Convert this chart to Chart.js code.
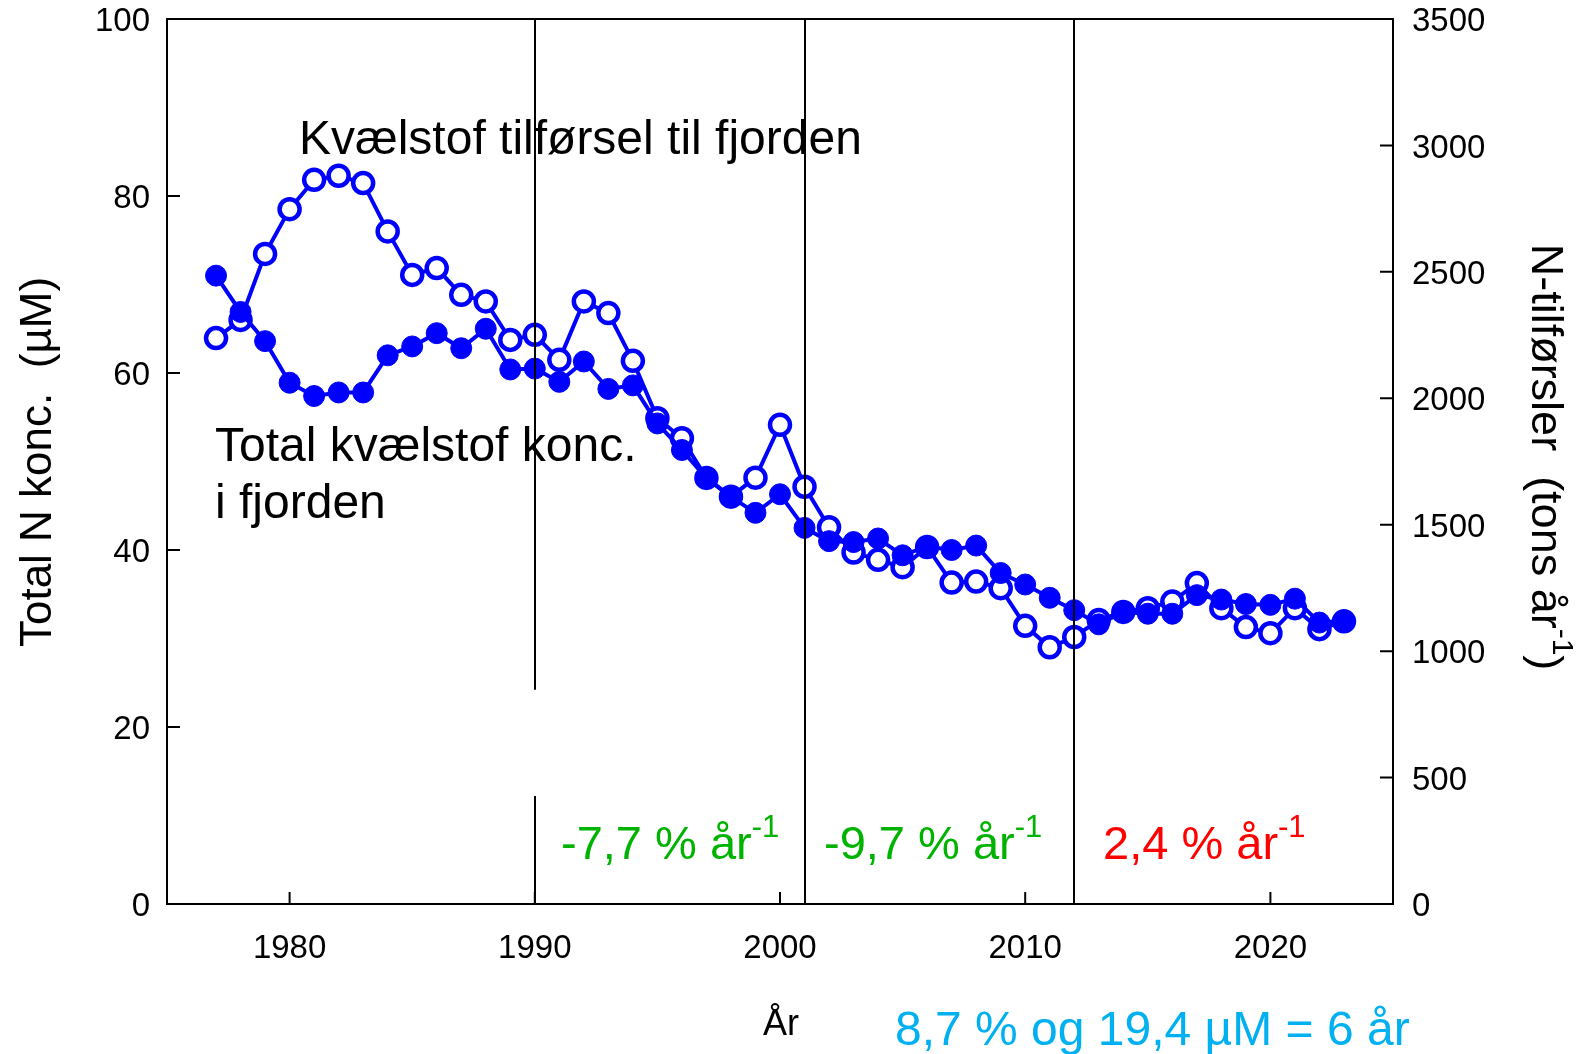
<!DOCTYPE html>
<html lang="da">
<head>
<meta charset="UTF-8">
<title>Kvælstof i fjorden</title>
<style>
  html, body { margin: 0; padding: 0; background: #fff; }
</style>
</head>
<body>
<canvas id="myChart" width="1591" height="1054"></canvas>

<script src="https://cdn.jsdelivr.net/npm/chart.js"></script>
<script>
// years with measurements
const years = [1977, 1978, 1979, 1980, 1981, 1982, 1983, 1984, 1985, 1986,
  1987, 1988, 1989, 1990, 1991, 1992, 1993, 1994, 1995, 1996,
  1997, 1998, 1999, 2000, 2001, 2002, 2003, 2004, 2005, 2006,
  2007, 2008, 2009, 2010, 2011, 2012, 2013, 2014, 2015, 2016,
  2017, 2018, 2019, 2020, 2021, 2022, 2023];

// total N concentration in the fjord (µM) - filled circles, left axis
const concN = [71.0, 66.9, 63.6, 58.9, 57.4, 57.8, 57.8, 62.0, 63.0, 64.5,
  62.8, 65.0, 60.4, 60.5, 59.0, 61.3, 58.2, 58.6, 54.3, 51.3,
  48.1, 46.0, 44.2, 46.3, 42.5, 41.0, 40.9, 41.3, 39.4, 40.4,
  40.0, 40.5, 37.4, 36.1, 34.6, 33.2, 31.6, 33.0, 32.8, 32.8,
  34.9, 34.4, 33.9, 33.8, 34.5, 31.8, 32.0];

// N load to the fjord (tons per year) - open circles, right axis
const loadN = [2238, 2310, 2571, 2748, 2864, 2880, 2851, 2660, 2488, 2515,
  2409, 2383, 2231, 2251, 2152, 2383, 2337, 2148, 1921, 1842,
  1685, 1611, 1686, 1895, 1650, 1490, 1390, 1361, 1332, 1412,
  1271, 1275, 1249, 1100, 1015, 1056, 1123, 1155, 1170, 1196,
  1269, 1170, 1095, 1071, 1170, 1087, 1118];

const xTicks = [1980, 1990, 2000, 2010, 2020];
const breakYears = [1990, 2001, 2012];
const breakGap1990 = [12.2, 24.2];   // µM range where the 1990 line is interrupted
const rateLabels = ['-7,7 % år', '-9,7 % år', '2,4 % år'];

const FONT = "'Liberation Sans', Arial, sans-serif";
Chart.defaults.font.family = FONT;
Chart.defaults.color = '#000';

function richText(ctx, x, y, parts) {
  // draws text pieces one after another, some raised as superscript
  let cx = x;
  parts.forEach(p => {
    ctx.font = p.size + 'px ' + FONT;
    ctx.fillText(p.t, cx, y - (p.up || 0));
    cx += ctx.measureText(p.t).width;
  });
  return cx - x;
}

function richWidth(ctx, parts) {
  let w = 0;
  parts.forEach(p => {
    ctx.font = p.size + 'px ' + FONT;
    w += ctx.measureText(p.t).width;
  });
  return w;
}

const decorations = {
  id: 'decorations',
  afterDatasetsDraw(chart) {
    const ctx = chart.ctx;
    const a = chart.chartArea;
    const x = chart.scales.x, yL = chart.scales.y, yR = chart.scales.y2;
    ctx.save();

    // frame
    ctx.strokeStyle = '#000';
    ctx.lineWidth = 2;
    ctx.strokeRect(a.left, a.top, a.right - a.left, a.bottom - a.top);

    // inward ticks
    ctx.beginPath();
    xTicks.forEach(v => {
      const px = x.getPixelForValue(v);
      ctx.moveTo(px, a.bottom); ctx.lineTo(px, a.bottom - 12);
    });
    yL.ticks.forEach(t => {
      const py = yL.getPixelForValue(t.value);
      ctx.moveTo(a.left, py); ctx.lineTo(a.left + 13, py);
    });
    yR.ticks.forEach(t => {
      const py = yR.getPixelForValue(t.value);
      ctx.moveTo(a.right, py); ctx.lineTo(a.right - 13, py);
    });
    ctx.stroke();

    // text labels
    ctx.fillStyle = '#000';
    ctx.textBaseline = 'alphabetic';
    ctx.textAlign = 'left';
    ctx.font = '48px ' + FONT;
    ctx.fillText('Kvælstof tilførsel til fjorden', 299, 154);
    ctx.fillText('Total kvælstof konc.', 215, 461);
    ctx.fillText('i fjorden', 215, 518);

    const rateX = [561, 824, 1103];
    const rateCol = ['#00b300', '#00b300', '#ff0000'];
    rateLabels.forEach((t, i) => {
      ctx.fillStyle = rateCol[i];
      richText(ctx, rateX[i], 859, [{t: t, size: 47}, {t: '-1', size: 31, up: 22}]);
    });

    ctx.fillStyle = '#000';
    ctx.font = '36px ' + FONT;
    ctx.fillText('År', 763, 1035);

    ctx.fillStyle = '#00b0f0';
    ctx.font = '48px ' + FONT;
    ctx.fillText('8,7 % og 19,4 µM = 6 år', 895, 1045);

    // axis titles
    ctx.fillStyle = '#000';
    ctx.save();
    ctx.translate(39, 462);
    ctx.rotate(-Math.PI / 2);
    ctx.textAlign = 'center';
    ctx.textBaseline = 'middle';
    ctx.font = '44px ' + FONT;
    ctx.fillText('Total N konc.  (µM)', 0, 0);
    ctx.restore();

    ctx.save();
    ctx.translate(1532, 457);
    ctx.rotate(Math.PI / 2);
    const rt = [{t: 'N-tilførsler  (tons år', size: 45}, {t: '-1', size: 30, up: 21}, {t: ')', size: 45}];
    richText(ctx, -richWidth(ctx, rt) / 2, 0, rt);
    ctx.restore();

    // period break lines
    ctx.strokeStyle = '#000';
    ctx.lineWidth = 2;
    ctx.beginPath();
    breakYears.forEach(yr => {
      const px = Math.round(x.getPixelForValue(yr));
      if (yr === 1990) {
        ctx.moveTo(px, a.top); ctx.lineTo(px, yL.getPixelForValue(breakGap1990[1]));
        ctx.moveTo(px, yL.getPixelForValue(breakGap1990[0])); ctx.lineTo(px, a.bottom);
      } else {
        ctx.moveTo(px, a.top); ctx.lineTo(px, a.bottom);
      }
    });
    ctx.stroke();
    ctx.restore();
  }
};

function pinScale(size, horizontal) {
  return function (scale) {
    if (horizontal) scale.height = size; else scale.width = size;
    scale.paddingTop = 0; scale.paddingBottom = 0;
    scale.paddingLeft = 0; scale.paddingRight = 0;
  };
}

const plain = v => String(v);

const ctx = document.getElementById('myChart');
new Chart(ctx, {
  type: 'line',
  data: {
    datasets: [
      {
        label: 'Total kvælstof konc. i fjorden',
        data: years.map((yr, i) => ({x: yr, y: concN[i]})),
        yAxisID: 'y',
        order: 0,
        borderColor: '#0000ff',
        borderWidth: 4,
        pointRadius: 10.5,
        pointBorderWidth: 1,
        pointBackgroundColor: '#0000ff',
        pointBorderColor: '#0000ff',
        tension: 0
      },
      {
        label: 'Kvælstof tilførsel til fjorden',
        data: years.map((yr, i) => ({x: yr, y: loadN[i]})),
        yAxisID: 'y2',
        order: 1,
        borderColor: '#0000ff',
        borderWidth: 4,
        pointRadius: 10,
        pointBorderWidth: 4.5,
        pointBackgroundColor: '#ffffff',
        pointBorderColor: '#0000ff',
        tension: 0
      }
    ]
  },
  options: {
    responsive: false,
    animation: false,
    layout: { padding: { top: 19, left: 0, right: 0, bottom: 0 } },
    plugins: {
      legend: { display: false },
      tooltip: { enabled: false }
    },
    scales: {
      x: {
        type: 'linear',
        min: 1975,
        max: 2025,
        afterBuildTicks: s => { s.ticks = xTicks.map(v => ({value: v})); },
        afterFit: pinScale(150, true),
        grid: { display: false, drawTicks: false },
        border: { display: false },
        ticks: { font: { size: 33 }, padding: 25, maxRotation: 0, color: '#000', callback: plain }
      },
      y: {
        position: 'left',
        min: 0,
        max: 100,
        afterFit: pinScale(167, false),
        grid: { display: false, drawTicks: false },
        border: { display: false },
        ticks: { stepSize: 20, font: { size: 33 }, padding: 17, labelOffset: 3, color: '#000', callback: plain }
      },
      y2: {
        position: 'right',
        min: 0,
        max: 3500,
        afterFit: pinScale(198, false),
        grid: { display: false, drawTicks: false },
        border: { display: false },
        ticks: { stepSize: 500, font: { size: 33 }, padding: 19, labelOffset: 3, color: '#000', callback: plain }
      }
    }
  },
  plugins: [decorations]
});
</script>
</body>
</html>
